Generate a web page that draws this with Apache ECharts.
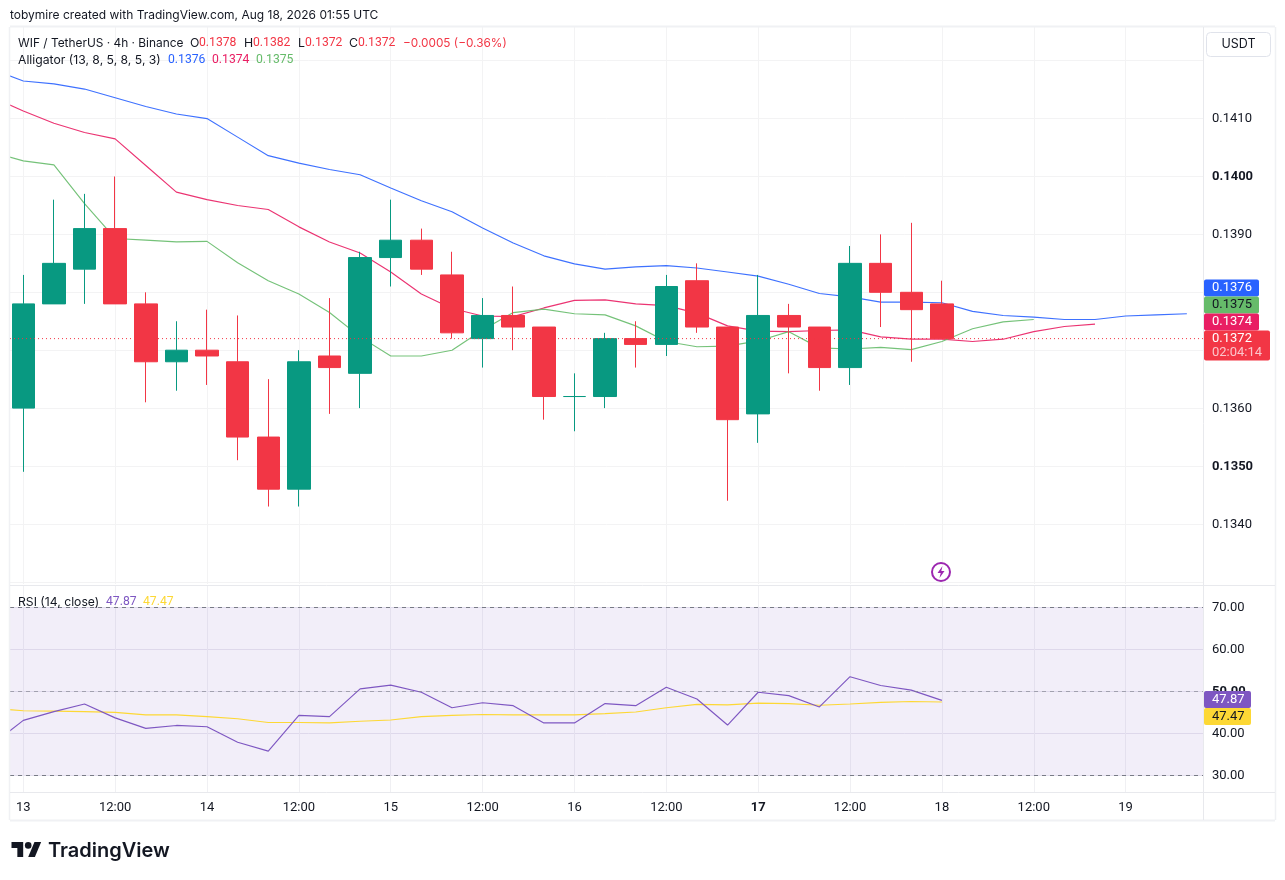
<!DOCTYPE html>
<html>
<head>
<meta charset="utf-8">
<style>html,body{margin:0;padding:0;background:#fff}#c{width:1285px;height:880px}</style>
<script src="https://cdn.jsdelivr.net/npm/echarts@6/dist/echarts.min.js"></script>
</head>
<body>
<div id="c"></div>
<script>
// candles: [open, close, low, high], one per 4h bar starting 13 Aug 00:00
const candles = [
[.1360,.1378,.1349,.1383],[.1378,.1385,.1378,.1396],[.1384,.1391,.1378,.1397],[.1391,.1378,.1378,.1400],
[.1378,.1368,.1361,.1380],[.1368,.1370,.1363,.1375],[.1370,.1369,.1364,.1377],[.1368,.1355,.1351,.1376],
[.1355,.1346,.1343,.1365],[.1346,.1368,.1343,.1370],[.1369,.1367,.1359,.1379],[.1366,.1386,.1360,.1387],
[.1386,.1389,.1381,.1396],[.1389,.1384,.1383,.1391],[.1383,.1373,.1372,.1387],[.1372,.1376,.1367,.1379],
[.1376,.1374,.1370,.1381],[.1374,.1362,.1358,.1374],[.1362,.1362,.1356,.1366],[.1362,.1372,.1360,.1373],
[.1372,.1371,.1367,.1375],[.1371,.1381,.1369,.1383],[.1382,.1374,.1373,.1385],[.1374,.1358,.1344,.1374],
[.1359,.1376,.1354,.1383],[.1376,.1374,.1366,.1378],[.1374,.1367,.1363,.1374],[.1367,.1385,.1364,.1388],
[.1385,.1380,.1374,.1390],[.1380,.1377,.1368,.1392],[.1378,.1372,.1372,.1382]
];
// alligator lines, first value belongs to the bar before the first candle
const jaw = [.14185,.14165,.14160,.14151,.14136,.14121,.14108,.14100,.14068,.14036,.14023,.14012,.14003,.13980,.13958,.13939,.13911,.13885,.13863,.13849,.13840,.13844,.13846,.13842,.13835,.13828,.13814,.13798,.13792,.13783,.13783,.13782,.13767,.13760,.13757,.13753,.13753,.13759,.13761,.13763];
const teeth = [.14137,.14113,.14092,.14076,.14065,.14019,.13973,.13960,.13950,.13943,.13913,.13887,.13868,.13835,.13797,.13772,.13759,.13758,.13773,.13786,.13787,.13780,.13777,.13764,.13742,.13733,.13732,.13734,.13735,.13723,.13719,.13719,.13715,.13719,.13732,.13741,.13745];
const lips = [.14042,.14027,.14020,.13953,.13893,.13890,.13887,.13888,.13851,.13820,.13797,.13765,.13723,.13690,.13690,.13700,.13735,.13765,.13771,.13763,.13761,.13742,.13715,.13706,.13707,.13716,.13732,.13704,.13702,.13705,.13701,.13715,.13737,.13749,.13753];
const rsi = [37.5,43.1,45.2,47.0,43.7,41.2,41.9,41.6,37.9,35.8,44.3,44.0,50.6,51.5,49.8,46.1,47.3,46.6,42.5,42.5,47.1,46.6,51.0,48.2,42.0,49.8,49.0,46.3,53.5,51.4,50.3,47.87];
const rsiMa = [46.0,45.4,45.3,45.2,45.0,44.4,44.4,44.0,43.5,42.6,42.6,42.5,42.9,43.2,44.0,44.3,44.5,44.4,44.4,44.4,44.7,45.1,46.1,46.9,46.8,47.2,47.1,46.7,47.0,47.4,47.6,47.47];
const timeTickIdx = [0,3,6,9,12,15,18,21,24,27,30,33,36];
const timeTicks = ['13','12:00','14','12:00','15','12:00','16','12:00','17','12:00','18','12:00','19'];
const priceGrid = [.1330,.1340,.1350,.1360,.1370,.1380,.1390,.1400,.1410,.1420];
const priceLabels = [.1340,.1350,.1360,.1390,.1400,.1410];
const rsiTicks = [30,40,50,60,70];
const lastClose = .1372;

const FONT = 'Inter, "Noto Sans", sans-serif';
const NUM = 'Roboto, Inter, sans-serif';
const GREEN='#089981', RED='#f23645', BLUE='#2962ff', PINK='#e91e63', LIME='#66bb6a', PURPLE='#7e57c2', YELLOW='#fdd835', INK='#131722';
const xMin=-0.4344, xMax=38.527;

const withIdx = arr => arr.map((v,i)=>[i-1,v]);
const xLabel = v => { const i=timeTickIdx.indexOf(v); if(i<0) return ''; const t=timeTicks[i]; return t==='17' ? '{b|'+t+'}' : t; };

function txt(x,y,text,fill,o){o=o||{};return {type:'text',x:x,y:y,z:o.z||50,silent:true,style:{text:text,fill:fill,font:(o.weight||'400')+' '+(o.size||12.5)+'px '+(o.num?NUM:FONT),textVerticalAlign:'middle',verticalAlign:'middle',textAlign:o.align||'left',align:o.align||'left'}};}
function box(x,y,w,h,fill,o){o=o||{};return {type:'rect',z:o.z||40,silent:true,shape:{x:x,y:y,width:w,height:h,r:o.r||0},style:{fill:fill,stroke:o.stroke||null,lineWidth:o.lw||0}};}
function hl(x1,y1,x2,y2,c,w){return {type:'line',z:30,silent:true,shape:{x1:x1,y1:y1,x2:x2,y2:y2},style:{stroke:c,lineWidth:w||1}};}

const FRAME='#e8e9ed';
const LOGO=(px,py)=>[px*.835+11.5,py*.835+838.7];
const tag=(x,y,t,c)=>txt(x,y,t,c,{size:13,z:51,num:true});
const leg=(x,y,t,c)=>txt(x,y,t,c,{size:12.2,num:true});
const graphics=[
 hl(10,26.5,1275,26.5,'#f0f1f4',2), hl(10,820.5,1275,820.5,'#f0f1f4',2),
 hl(9.5,27,9.5,820,'#f0f1f4',1.5), hl(1275.5,27,1275.5,820,'#f0f1f4',1.5),
 hl(10,585.5,1275,585.5,FRAME,1), hl(10,792.5,1275,792.5,FRAME,1), hl(1203.5,27,1203.5,820,FRAME,1),
 box(1206.5,32.5,64,24,'#fff',{stroke:'#e0e3eb',lw:1,r:4}),
 txt(1238.5,44,'USDT',INK,{align:'center',size:12.5}),
 txt(10,15.5,'tobymire created with TradingView.com, Aug 18, 2026 01:55 UTC',INK,{size:12}),
 txt(18,43,'WIF / TetherUS · 4h · Binance',INK,{size:11.9}),
 txt(190,43,'O',INK,{size:12.3}),leg(199,43,'0.1378',RED),
 txt(244,43,'H',INK,{size:12.3}),leg(253,43,'0.1382',RED),
 txt(298,43,'L',INK,{size:12.3}),leg(305,43,'0.1372',RED),
 txt(349,43,'C',INK,{size:12.3}),leg(358,43,'0.1372',RED),
 txt(403,43,'−0.0005 (−0.36%)',RED,{size:11.8}),
 txt(18,60,'Alligator (13, 8, 5, 8, 5, 3)',INK,{size:12.2}),
 leg(168,60,'0.1376',BLUE),leg(212,60,'0.1374',PINK),leg(256,60,'0.1375',LIME),
 txt(18,602,'RSI (14, close)',INK,{size:12.2}),leg(106,602,'47.87',PURPLE),leg(143,602,'47.47',YELLOW),
 // price tags
 box(1204,279.5,55,17,BLUE,{r:2}),tag(1212,288,'0.1376','#fff'),
 box(1204,296.5,55,17,LIME,{r:2}),tag(1212,305,'0.1375',INK),
 box(1204,313.5,55,17,PINK,{r:2}),tag(1212,322,'0.1374','#fff'),
 box(1204,330.5,66,30,RED,{r:2}),tag(1212,339,'0.1372','#fff'),tag(1212,353,'02:04:14','#fbc5ca'),
 box(1204,691,47,17,PURPLE,{r:2}),tag(1212,699.5,'47.87','#fff'),
 box(1204,708,47,17,YELLOW,{r:2}),tag(1212,716.5,'47.47',INK),
 // alert icon
 {type:'circle',z:45,silent:true,shape:{cx:941,cy:572,r:9},style:{fill:'#fff',stroke:'#9c27b0',lineWidth:2}},
 {type:'polygon',z:46,silent:true,shape:{points:[[942.5,566],[937.5,573],[940.7,573],[939.5,578],[944.5,571],[941.3,571]]},style:{fill:'#9c27b0'}},
 // logo
 {type:'polygon',z:50,silent:true,shape:{points:[LOGO(14,22),LOGO(7,22),LOGO(7,11),LOGO(0,11),LOGO(0,4),LOGO(14,4)]},style:{fill:'#131722'}},
 {type:'polygon',z:50,silent:true,shape:{points:[LOGO(28,22),LOGO(20,22),LOGO(27.5,4),LOGO(35.5,4)]},style:{fill:'#131722'}},
 {type:'circle',z:50,silent:true,shape:{cx:28.2,cy:845.4,r:3.3},style:{fill:'#131722'}},
 txt(48,850.5,'TradingView','#131722',{size:20,weight:'600'})
];

const boldRich={b:{fontWeight:'700',fontSize:13,color:'#131722',fontFamily:NUM}};
const option={
 animation:false,
 backgroundColor:'#fff',
 textStyle:{fontFamily:FONT},
 graphic:{elements:graphics},
 grid:[
  {left:10,top:27,width:1193,height:557,show:false},
  {left:10,top:586,width:1193,height:206,show:false}
 ],
 xAxis:[
  {type:'value',gridIndex:0,min:xMin,max:xMax,axisLine:{show:false},axisLabel:{show:false},
   axisTick:{show:false,customValues:timeTickIdx},splitLine:{show:true,lineStyle:{color:'#f3f3f4',width:1}}},
  {type:'value',gridIndex:1,min:xMin,max:xMax,axisLine:{show:false},
   axisTick:{show:false,customValues:timeTickIdx},splitLine:{show:true,lineStyle:{color:'#f0f0f3',width:1}},
   axisLabel:{show:true,customValues:timeTickIdx,formatter:xLabel,color:'#131722',fontFamily:NUM,fontSize:13,margin:9,hideOverlap:false,showMinLabel:true,showMaxLabel:true,
     rich:{b:{fontWeight:'700',fontSize:13,color:'#131722',fontFamily:NUM}}}}
 ],
 yAxis:[
  {type:'value',gridIndex:0,position:'right',min:.132962,max:.142582,scale:true,axisLine:{show:false},
   axisTick:{show:false,customValues:priceGrid},splitLine:{show:true,lineStyle:{color:'#f3f3f4',width:1}},
   axisLabel:{show:true,customValues:priceLabels,margin:9,color:'#131722',fontFamily:NUM,fontSize:13,padding:[1,0,0,0],
     formatter:v=>{const s=v.toFixed(4);return (s==='0.1400'||s==='0.1350')?'{b|'+s+'}':s;},
     rich:boldRich}},
  {type:'value',gridIndex:1,position:'right',min:26.07,max:75.07,axisLine:{show:false},
   axisTick:{show:false,customValues:rsiTicks},splitLine:{show:true,lineStyle:{color:'#e9e7f0',width:1}},
   axisLabel:{show:true,customValues:rsiTicks,margin:9,color:'#131722',fontFamily:NUM,fontSize:13,padding:[1,0,0,0],
     formatter:v=>{const s=v.toFixed(2);return s==='50.00'?'{b|'+s+'}':s;},
     rich:boldRich}}
 ],
 series:[
  {type:'line',name:'Jaw',xAxisIndex:0,yAxisIndex:0,data:withIdx(jaw),showSymbol:false,symbol:'none',z:2,lineStyle:{color:BLUE,width:1.15,opacity:.9}},
  {type:'line',name:'Teeth',xAxisIndex:0,yAxisIndex:0,data:withIdx(teeth),showSymbol:false,symbol:'none',z:2,lineStyle:{color:PINK,width:1.15,opacity:.9}},
  {type:'line',name:'Lips',xAxisIndex:0,yAxisIndex:0,data:withIdx(lips),showSymbol:false,symbol:'none',z:2,lineStyle:{color:LIME,width:1.15,opacity:.9}},
  {type:'candlestick',name:'WIF',xAxisIndex:0,yAxisIndex:0,barWidth:23,z:3,encode:{x:0,y:[1,2,3,4]},
   data:candles.map((c,i)=>[i,c[0],c[1],c[2],c[3]]),
   itemStyle:{color:GREEN,color0:RED,borderColor:GREEN,borderColor0:RED,borderColorDoji:GREEN,borderWidth:1}},
  {type:'line',name:'Last',xAxisIndex:0,yAxisIndex:0,data:[[xMin,lastClose],[xMax,lastClose]],showSymbol:false,symbol:'none',z:5,
   lineStyle:{color:RED,type:[1,3],width:1,opacity:1}},
  {type:'line',name:'RSI',xAxisIndex:1,yAxisIndex:1,data:withIdx(rsi),showSymbol:false,symbol:'none',z:4,lineStyle:{color:PURPLE,width:1.15},
   markArea:{silent:true,itemStyle:{color:'rgba(126,87,194,0.1)'},data:[[{yAxis:30},{yAxis:70}]]},
   markLine:{silent:true,symbol:'none',animation:false,label:{show:false},
     data:[{yAxis:70,lineStyle:{color:'#787b86',type:[4,4],width:1}},{yAxis:50,lineStyle:{color:'rgba(120,123,134,.6)',type:[4,4],width:1}},{yAxis:30,lineStyle:{color:'#787b86',type:[4,4],width:1}}]}},
  {type:'line',name:'RSI MA',xAxisIndex:1,yAxisIndex:1,data:withIdx(rsiMa),showSymbol:false,symbol:'none',z:3,lineStyle:{color:YELLOW,width:1.15}}
 ]
};
const chart=echarts.init(document.getElementById('c'),null,{renderer:'canvas',width:1285,height:880});
chart.setOption(option);
</script>
</body>
</html>
